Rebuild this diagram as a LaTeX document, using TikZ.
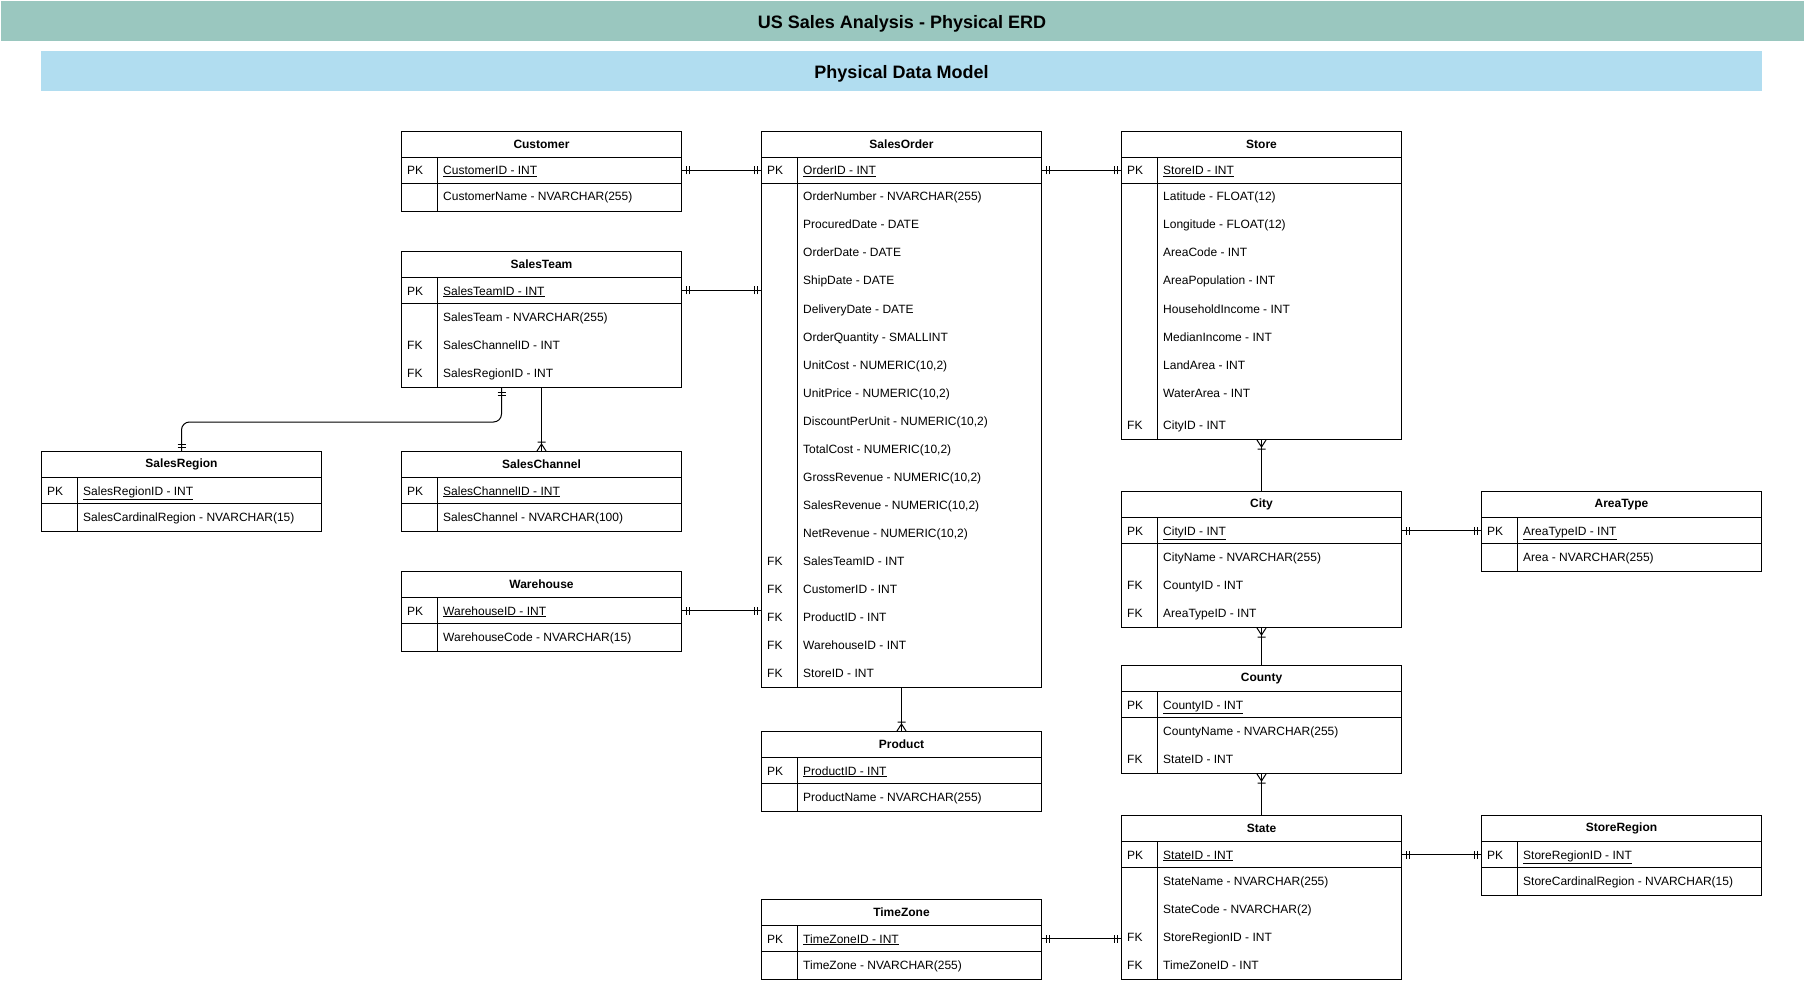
\documentclass[tikz,border=0pt]{standalone}
\usepackage{fontspec}
\setmainfont{Liberation Sans}
\usetikzlibrary{decorations.markings}

\definecolor{titlegreen}{HTML}{9AC7BF}
\definecolor{modelblue}{HTML}{B1DDF0}

\tikzset{
    tblhead/.style={draw, line width=1pt, anchor=north west, minimum width=280pt, minimum height=26pt, inner sep=0pt, font=\fontsize{12}{14}\selectfont\bfseries},
    tblrow/.style={draw, line width=1pt, anchor=north west, minimum width=280pt, minimum height=26pt, inner sep=0pt},
    tbltext/.style={anchor=west, inner sep=0pt, text height=9pt, text depth=3pt, font=\fontsize{12}{14}\selectfont},
    link/.style={line width=1pt},
    oneone/.style={link, postaction={decorate, decoration={markings,
        mark=at position 0 with {\draw[line width=1pt] (4pt,-4pt) -- (4pt,4pt) (7pt,-4pt) -- (7pt,4pt);},
        mark=at position 1 with {\draw[line width=1pt] (-4pt,-4pt) -- (-4pt,4pt) (-7pt,-4pt) -- (-7pt,4pt);}}}},
    manystart/.style={link, postaction={decorate, decoration={markings,
        mark=at position 0 with {\draw[line width=1pt] (0pt,-4.5pt) -- (7pt,0pt) -- (0pt,4.5pt) (9pt,-4pt) -- (9pt,4pt);}}}},
    manyend/.style={link, postaction={decorate, decoration={markings,
        mark=at position 1 with {\draw[line width=1pt] (0pt,-4.5pt) -- (-7pt,0pt) -- (0pt,4.5pt) (-9pt,-4pt) -- (-9pt,4pt);}}}},
}

% [extra gap before last row] {name}{x}{y}{title}{pk}{key/attribute rows}
\newcommand\erdtable[7][0]{
    \node[tblhead] (#2) at (#3,#4) {#5};
    \node[tblrow] (#2-pk) at (#3,#4+26) {};
    \path node[tbltext] at (#3+6,#4+41) {PK};
    \path node[tbltext] (#2-pkname) at (#3+42,#4+41) {\underline{#6}};
    \foreach \k/\t [count=\i] in {#7} {\xdef\nrows{\i}}
    \foreach \k/\t [count=\i] in {#7}
    {
        \pgfmathsetmacro\rowy{#4+39+28*\i+(\i==\nrows)*#1}
        \path node[tbltext] at (#3+6,\rowy) {\k};
        \path node[tbltext] (#2-r\i) at (#3+42,\rowy) {\t};
    }
    \node[draw, line width=1pt, anchor=north west, inner sep=0pt, minimum width=280pt, minimum height={28pt*\nrows+#1pt}] (#2-body) at (#3,#4+52) {};
    \draw[line width=1pt] (#3+36,#4+26) -- (#3+36,#4+52+28*\nrows+#1);
}

\begin{document}
\begin{tikzpicture}[x=1pt, y=-1pt]
    \useasboundingbox (0,0) rectangle (1804,984);

    \fill[titlegreen] (1,1) rectangle (1804,41);
    \node[font=\fontsize{18}{22}\selectfont\bfseries] (title) at (902,24) {US Sales Analysis - Physical ERD};
    \fill[modelblue] (41,51) rectangle (1762,91);
    \node[font=\fontsize{18}{22}\selectfont\bfseries] (model) at (901.5,74) {Physical Data Model};

    % left columns
    \erdtable{customer}{401}{131}{Customer}{CustomerID - INT}{{}/CustomerName - NVARCHAR(255)}
    \erdtable{salesteam}{401}{251}{SalesTeam}{SalesTeamID - INT}{{}/SalesTeam - NVARCHAR(255), FK/SalesChannelID - INT, FK/SalesRegionID - INT}
    \erdtable{salesregion}{41}{451}{SalesRegion}{SalesRegionID - INT}{{}/SalesCardinalRegion - NVARCHAR(15)}
    \erdtable{saleschannel}{401}{451}{SalesChannel}{SalesChannelID - INT}{{}/SalesChannel - NVARCHAR(100)}
    \erdtable{warehouse}{401}{571}{Warehouse}{WarehouseID - INT}{{}/WarehouseCode - NVARCHAR(15)}

    % middle column
    \erdtable{salesorder}{761}{131}{SalesOrder}{OrderID - INT}{{}/OrderNumber - NVARCHAR(255), {}/ProcuredDate - DATE, {}/OrderDate - DATE, {}/ShipDate - DATE, {}/DeliveryDate - DATE, {}/OrderQuantity - SMALLINT, {}/{UnitCost - NUMERIC(10,2)}, {}/{UnitPrice - NUMERIC(10,2)}, {}/{DiscountPerUnit - NUMERIC(10,2)}, {}/{TotalCost - NUMERIC(10,2)}, {}/{GrossRevenue - NUMERIC(10,2)}, {}/{SalesRevenue - NUMERIC(10,2)}, {}/{NetRevenue - NUMERIC(10,2)}, FK/SalesTeamID - INT, FK/CustomerID - INT, FK/ProductID - INT, FK/WarehouseID - INT, FK/StoreID - INT}
    \erdtable{product}{761}{731}{Product}{ProductID - INT}{{}/ProductName - NVARCHAR(255)}
    \erdtable{timezone}{761}{899}{TimeZone}{TimeZoneID - INT}{{}/TimeZone - NVARCHAR(255)}

    % right columns
    \erdtable[4]{store}{1121}{131}{Store}{StoreID - INT}{{}/Latitude - FLOAT(12), {}/Longitude - FLOAT(12), {}/AreaCode - INT, {}/AreaPopulation - INT, {}/HouseholdIncome - INT, {}/MedianIncome - INT, {}/LandArea - INT, {}/WaterArea - INT, FK/CityID - INT}
    \erdtable{city}{1121}{491}{City}{CityID - INT}{{}/CityName - NVARCHAR(255), FK/CountyID - INT, FK/AreaTypeID - INT}
    \erdtable{county}{1121}{665}{County}{CountyID - INT}{{}/CountyName - NVARCHAR(255), FK/StateID - INT}
    \erdtable{state}{1121}{815}{State}{StateID - INT}{{}/StateName - NVARCHAR(255), {}/StateCode - NVARCHAR(2), FK/StoreRegionID - INT, FK/TimeZoneID - INT}
    \erdtable{areatype}{1481}{491}{AreaType}{AreaTypeID - INT}{{}/Area - NVARCHAR(255)}
    \erdtable{storeregion}{1481}{815}{StoreRegion}{StoreRegionID - INT}{{}/StoreCardinalRegion - NVARCHAR(15)}

    % relations
    \draw[oneone] (customer-pk.east) -- (salesorder-pk.west);
    \draw[oneone] (salesteam-pk.east) -- (salesteam-pk.east -| salesorder-body.west);
    \draw[oneone] (warehouse-pk.east) -- (warehouse-pk.east -| salesorder-body.west);
    \draw[oneone] (salesorder-pk.east) -- (store-pk.west);
    \draw[oneone, rounded corners=8pt] ([xshift=-40pt]salesteam-body.south) -- ++(0,34) -| (salesregion.north);
    \draw[manyend] (salesteam-body.south) -- (saleschannel.north);
    \draw[manyend] (salesorder-body.south) -- (product.north);
    \draw[manystart] (store-body.south) -- (city.north);
    \draw[manystart] (city-body.south) -- (county.north);
    \draw[manystart] (county-body.south) -- (state.north);
    \draw[oneone] (city-pk.east) -- (areatype-pk.west);
    \draw[oneone] (state-pk.east) -- (storeregion-pk.west);
    \draw[oneone] (timezone-pk.east) -- (timezone-pk.east -| state-body.west);
\end{tikzpicture}
\end{document}
